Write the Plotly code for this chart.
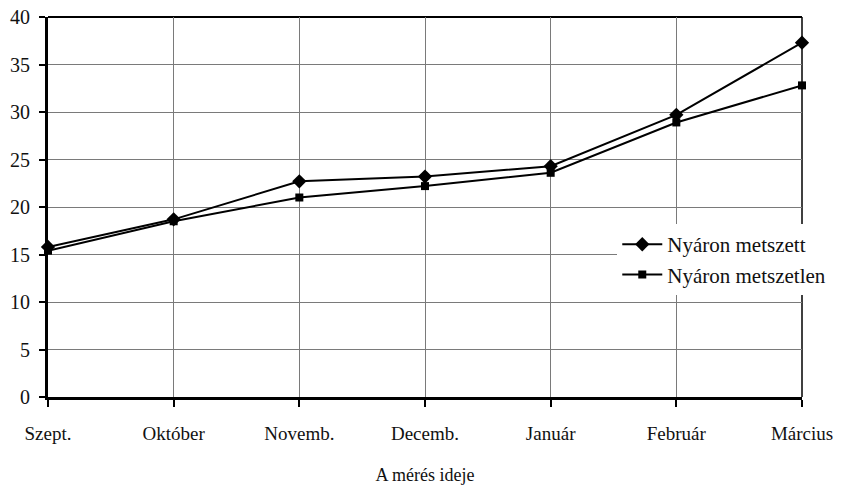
import plotly.graph_objects as go

months = ["Szept.", "Október", "Novemb.", "Decemb.", "Január", "Február", "Március"]
metszett = [15.8, 18.7, 22.7, 23.2, 24.3, 29.7, 37.3]
metszetlen = [15.4, 18.5, 21.0, 22.2, 23.6, 28.9, 32.8]
y_ticks = [0, 5, 10, 15, 20, 25, 30, 35, 40]

font_family = "Liberation Serif, DejaVu Serif, serif"

fig = go.Figure()
fig.add_trace(go.Scatter(
    x=list(range(len(months))), y=metszett, mode="lines+markers",
    name="Nyáron metszett",
    line=dict(color="black", width=2),
    marker=dict(symbol="diamond", size=11, color="black"),
    cliponaxis=False,
))
fig.add_trace(go.Scatter(
    x=list(range(len(months))), y=metszetlen, mode="lines+markers",
    name="Nyáron metszetlen",
    line=dict(color="black", width=2),
    marker=dict(symbol="square", size=8, color="black"),
    cliponaxis=False,
))

fig.update_layout(
    width=841, height=490,
    margin=dict(l=48, r=39, t=17, b=93, autoexpand=False),
    paper_bgcolor="white", plot_bgcolor="white",
    font=dict(family=font_family, size=19, color="#111"),
    showlegend=True,
    legend=dict(
        x=0.755, y=0.455, xanchor="left", yanchor="top",
        bgcolor="white", borderwidth=0,
        font=dict(family=font_family, size=21, color="#111"),
        tracegroupgap=0, itemwidth=40,
    ),
    xaxis=dict(
        range=[0, len(months) - 1], automargin=False,
        tickmode="array", tickvals=list(range(len(months))), ticktext=months,
        showgrid=True, gridcolor="#7a7a7a", gridwidth=1,
        showline=True, linecolor="black", linewidth=3, mirror=False,
        ticks="outside", ticklen=7, tickwidth=2, tickcolor="black",
        ticklabelstandoff=10,
        zeroline=False,
        title=dict(text="A mérés ideje", font=dict(family=font_family, size=18), standoff=26),
        tickfont=dict(family=font_family, size=19),
    ),
    yaxis=dict(
        range=[0, 40], automargin=False,
        tickmode="array", tickvals=y_ticks,
        showgrid=True, gridcolor="#7a7a7a", gridwidth=1,
        showline=True, linecolor="black", linewidth=3,
        ticks="outside", ticklen=6, tickwidth=2, tickcolor="black",
        ticklabelstandoff=5,
        zeroline=False,
        tickfont=dict(family=font_family, size=20),
    ),
)

# thin frame on top and right of the plot area
fig.add_shape(type="line", xref="paper", yref="paper", x0=0, x1=1, y0=1, y1=1,
              line=dict(color="black", width=2), layer="below")
fig.add_shape(type="line", xref="paper", yref="paper", x0=1, x1=1, y0=0, y1=1,
              line=dict(color="black", width=1.5), layer="below")

fig.write_html("out.html")
